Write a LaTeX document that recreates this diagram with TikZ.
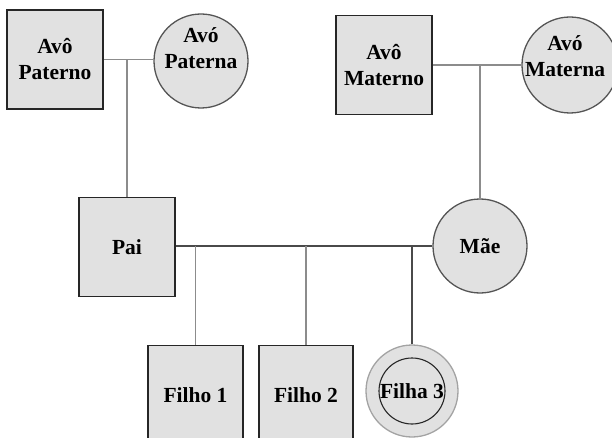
\documentclass[tikz,border=0pt]{standalone}
\usepackage{fontspec}
\setmainfont{Liberation Serif}
\begin{document}
\begin{tikzpicture}[x=1pt,y=-1pt,
  lbl/.style={font=\bfseries\fontsize{21.5}{26}\selectfont, align=center},
  person/.style={fill=boxfill, lbl, inner sep=0pt},
  male/.style={person, rectangle, draw=boxline, line width=1.5pt, minimum width=96pt, minimum height=99pt},
  female/.style={person, circle, draw=circline, line width=1.3pt, minimum size=94pt},
  link/.style={draw=linkgray, line width=1.2pt},
  bond/.style={draw=bondgray, line width=1.8pt}]
\definecolor{boxfill}{HTML}{E1E1E1}
\definecolor{boxline}{HTML}{262626}
\definecolor{circline}{HTML}{555555}
\definecolor{linkgray}{HTML}{8C8C8C}
\definecolor{bondgray}{HTML}{4A4A4A}
\useasboundingbox (0,0) rectangle (612,438);
\clip (0,0) rectangle (612,438);
% grandparents
\node[male] (avp) at (55,59.5) {Avô\\Paterno};
\node[female, label={[lbl, yshift=13pt]center:Avó\\Paterna}] (avap) at (201,61) {};
\node[male] (avm) at (384,65) {Avô\\Materno};
\node[female, minimum size=96pt, label={[lbl, yshift=9pt, xshift=-5pt]center:Avó\\Materna}] (avam) at (570,65) {};
% parents
\node[male] (pai) at (127,247) {Pai};
\node[female] (mae) at (480,246) {Mãe};
% children
\node[male, minimum width=95pt] (f1) at (195.5,395) {Filho 1};
\node[male, minimum width=94pt] (f2) at (306,395) {Filho 2};
\node[female, draw=linkgray!80, minimum size=92pt] (f3) at (412,391) {};
\node[circle, draw=boxline, line width=1.1pt, minimum size=66pt, inner sep=0pt, lbl] (f3in) at (f3.center) {\makebox[0pt]{Filha 3}};
% couples
\draw[link] (avp.east) -- (avp.east -| avap.west);
\draw[link] (avm.east) -- (avm.east -| avam.west);
\draw[link] (pai.north) -- (pai.north |- avp.east);
\draw[link] (mae.north) -- (mae.north |- avm.east);
\draw[bond] (pai.east |- mae.west) -- (mae.west);
% descendants
\draw[link] (f1.north) -- (f1.north |- mae.west);
\draw[link] (f2.north) -- (f2.north |- mae.west);
\draw[bond, line width=2pt] (f3.north) -- (f3.north |- mae.west);
\end{tikzpicture}
\end{document}
